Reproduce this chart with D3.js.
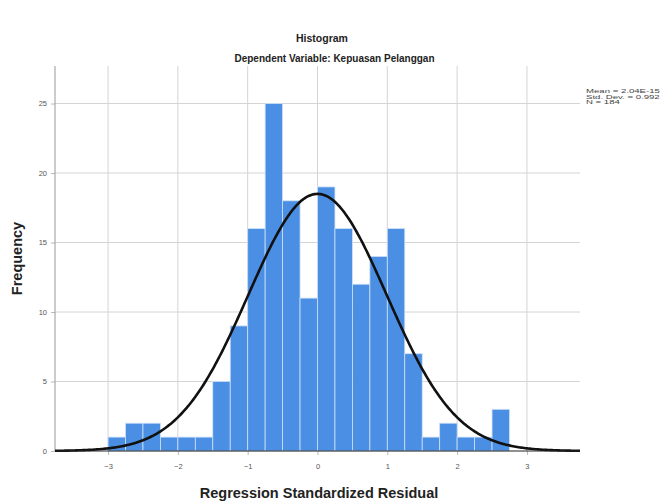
<!DOCTYPE html>
<html>
<head>
<meta charset="utf-8">
<script src="https://cdn.jsdelivr.net/npm/d3@7"></script>
<style>
  body { margin: 0; background: #fff; }
  text { font-family: "Liberation Sans", Arial, sans-serif; }
</style>
</head>
<body>
<svg id="chart"></svg>
<script>
// Data
let binStarts = [-3.0, -2.75, -2.5, -2.25, -2.0, -1.75, -1.5, -1.25, -1.0, -0.75, -0.5, -0.25,
                 0.0, 0.25, 0.5, 0.75, 1.0, 1.25, 1.5, 1.75, 2.0, 2.25, 2.5];
let counts = [1, 2, 2, 1, 1, 1, 5, 9, 16, 25, 18, 11, 19, 16, 12, 14, 16, 7, 1, 2, 1, 1, 3];
let binWidth = 0.25;
let xTicks = [-3, -2, -1, 0, 1, 2, 3];
let yTicks = [0, 5, 10, 15, 20, 25];
let stats = { mean: 2.04e-15, sd: 0.992, n: 184 };
let statLines = ["Mean = 2.04E-15", "Std. Dev. = 0.992", "N = 184"];

// SVG Size
let width = 661;
let height = 502;
let margin = { left: 55, right: 81, top: 66, bottom: 51 };

let svg = d3.select("#chart")
    .attr("width", width)
    .attr("height", height);

// Scales
let x = d3.scaleLinear()
    .domain([-3.76, 3.76])
    .range([margin.left, width - margin.right]);

let y = d3.scaleLinear()
    .domain([0, 27.7])
    .range([height - margin.bottom, margin.top]);

// Grid
svg.append("g")
    .selectAll("line")
    .data(yTicks.slice(1))
    .enter()
    .append("line")
    .attr("x1", margin.left)
    .attr("x2", width - margin.right)
    .attr("y1", d => y(d))
    .attr("y2", d => y(d))
    .attr("stroke", "#d4d4d4");

svg.append("g")
    .selectAll("line")
    .data(xTicks)
    .enter()
    .append("line")
    .attr("x1", d => x(d))
    .attr("x2", d => x(d))
    .attr("y1", margin.top)
    .attr("y2", height - margin.bottom)
    .attr("stroke", "#d4d4d4");

// Bars
svg.append("g")
    .selectAll("rect")
    .data(counts)
    .enter()
    .append("rect")
    .attr("x", (d, i) => x(binStarts[i]))
    .attr("width", (d, i) => x(binStarts[i] + binWidth) - x(binStarts[i]))
    .attr("y", d => y(d))
    .attr("height", d => y(0) - y(d))
    .attr("fill", "#4a8fe3")
    .attr("stroke", "#cfe0f7")
    .attr("stroke-width", 0.8);

// Axes
let xAxis = d3.axisBottom(x)
    .tickValues(xTicks)
    .tickSize(4)
    .tickFormat(d3.format("d"));

let gx = svg.append("g")
    .attr("transform", `translate(0, ${y(0)})`)
    .call(xAxis);
gx.select(".domain").remove();
gx.selectAll(".tick line").attr("stroke", "#bbb");
gx.selectAll(".tick text")
    .attr("fill", "#555")
    .attr("font-size", 7.5)
    .attr("dy", "1.4em");

let yAxis = d3.axisLeft(y)
    .tickValues(yTicks)
    .tickSize(4)
    .tickFormat(d3.format("d"));

let gy = svg.append("g")
    .attr("transform", `translate(${margin.left}, 0)`)
    .call(yAxis);
gy.select(".domain").remove();
gy.selectAll(".tick line").attr("stroke", "#bbb");
gy.selectAll(".tick text")
    .attr("fill", "#555")
    .attr("font-size", 7.5)
    .attr("x", -8);

svg.append("line")
    .attr("x1", margin.left)
    .attr("x2", margin.left)
    .attr("y1", margin.top)
    .attr("y2", y(0))
    .attr("stroke", "#999");

// Normal curve
let normal = v => stats.n * binWidth / (stats.sd * Math.sqrt(2 * Math.PI)) *
    Math.exp(-0.5 * Math.pow((v - stats.mean) / stats.sd, 2));
let curveX = d3.range(-3.76, 3.7601, 0.02);

svg.append("path")
    .datum(curveX)
    .attr("d", d3.line().x(d => x(d)).y(d => y(normal(d))))
    .attr("fill", "none")
    .attr("stroke", "#111")
    .attr("stroke-width", 2.6);

svg.append("line")
    .attr("x1", margin.left)
    .attr("x2", width - margin.right)
    .attr("y1", y(0))
    .attr("y2", y(0))
    .attr("stroke", "#222")
    .attr("stroke-width", 1);

// Titles
svg.append("text")
    .attr("x", 322)
    .attr("y", 42)
    .attr("text-anchor", "middle")
    .attr("font-size", 10.5)
    .attr("font-weight", "bold")
    .attr("fill", "#222")
    .text("Histogram");

svg.append("text")
    .attr("x", 334.5)
    .attr("y", 62)
    .attr("text-anchor", "middle")
    .attr("font-size", 10)
    .attr("font-weight", "bold")
    .attr("fill", "#222")
    .text("Dependent Variable: Kepuasan Pelanggan");

svg.append("text")
    .attr("x", 319)
    .attr("y", 498)
    .attr("text-anchor", "middle")
    .attr("font-size", 14.5)
    .attr("font-weight", "bold")
    .attr("fill", "#222")
    .text("Regression Standardized Residual");

svg.append("text")
    .attr("transform", `translate(22, ${(margin.top + y(0)) / 2}) rotate(-90)`)
    .attr("text-anchor", "middle")
    .attr("font-size", 14.5)
    .attr("font-weight", "bold")
    .attr("fill", "#222")
    .text("Frequency");

// Stats legend
svg.append("g")
    .attr("transform", "translate(586, 0) scale(1.6, 1)")
    .selectAll("text")
    .data(statLines)
    .enter()
    .append("text")
    .attr("x", 0)
    .attr("y", (d, i) => 93 + i * 5.6)
    .attr("font-size", 6)
    .attr("fill", "#444")
    .text(d => d);
</script>
</body>
</html>
